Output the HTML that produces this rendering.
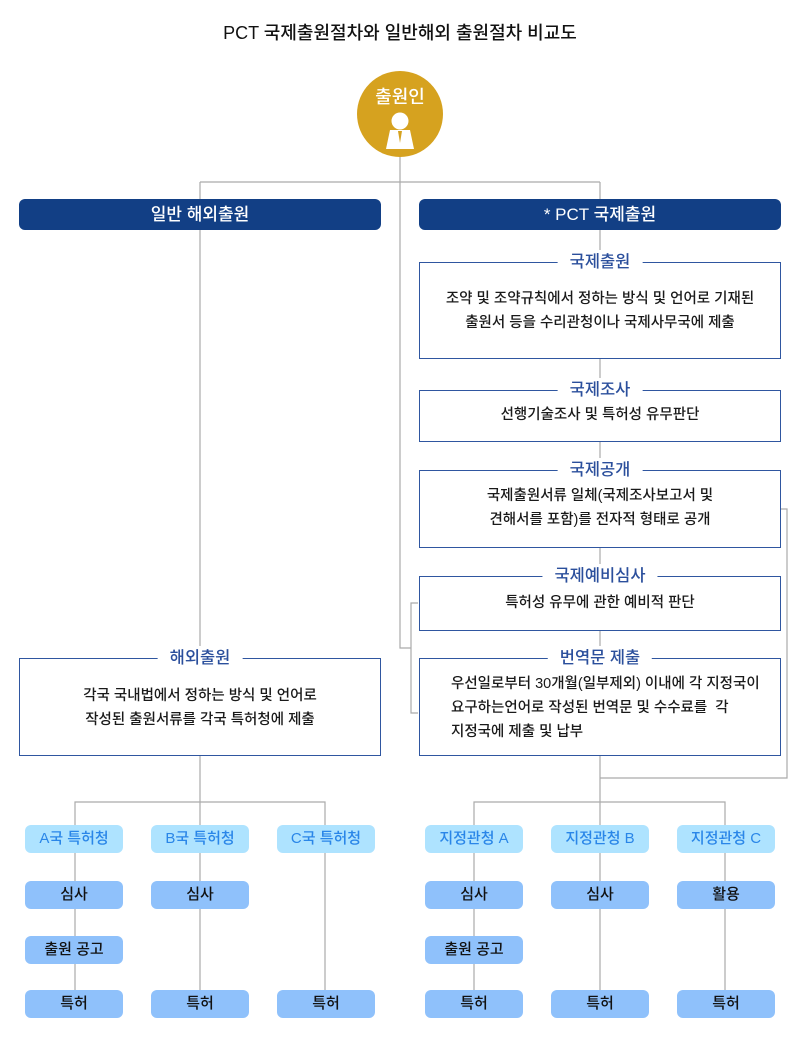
<!DOCTYPE html>
<html><head><meta charset="utf-8">
<style>
*{margin:0;padding:0;box-sizing:border-box}
body{width:800px;height:1058px;background:#fff;position:relative;overflow:hidden;font-family:"Liberation Sans","Noto Sans CJK KR",sans-serif;color:#222}
.a{position:absolute}
.title{left:0;width:800px;top:19px;text-align:center;font-size:18px;color:#111;font-weight:500}
.bar{background:#123f85;color:#fff;border-radius:6px;height:31px;top:199px;width:362px;text-align:center;font-size:17px;line-height:31px;font-weight:500}
.box{border:1.5px solid #2f56a0;background:#fff;width:362px}
.bt{position:absolute;top:-13px;left:50%;transform:translateX(-50%);background:#fff;padding:0 12px;color:#2b4f9c;font-size:16.5px;line-height:24px;white-space:nowrap;font-weight:500}
.bx{position:absolute;left:0;right:0;text-align:center;font-size:14.5px;line-height:24px;color:#1a1a1a;font-weight:500}
.n{width:98px;height:28px;border-radius:6px;text-align:center;line-height:28px;font-size:15px;font-weight:500}
.l{background:#aee3ff;color:#2a86e8}
.d{background:#8fc1fb;color:#111}
</style></head><body>
<svg class="a" style="left:0;top:0" width="800" height="1058">
<g stroke="#aaa" stroke-width="1.2" fill="none">
<path d="M400 150V648H411M200 182H600M200 182V658M600 182V262M600 358V390M600 441V470M600 547V576M600 630V658"/>
<path d="M418 603H411V713H418"/>
<path d="M781 509H787V778H600"/>
<path d="M200 755V802M75 825V802H325V825M200 802V825M75 853V990M200 853V990M325 853V990"/>
<path d="M600 755V802M474 825V802H725V825M600 802V825M474 853V990M600 853V990M725 853V990"/>
</g>
<circle cx="400" cy="114" r="43" fill="#d6a21f"/>
<circle cx="400" cy="121" r="8.5" fill="#fff"/>
<path d="M390 130H410L414 149H386Z" fill="#fff"/>
<path d="M398 131L400 143L402 131Z" fill="#d6a21f"/>
</svg>
<div class="a title">PCT 국제출원절차와 일반해외 출원절차 비교도</div>
<div class="a" style="left:356px;top:83px;width:88px;text-align:center;color:#fff;font-size:18px;font-weight:500">출원인</div>
<div class="a bar" style="left:19px">일반 해외출원</div>
<div class="a bar" style="left:419px">* PCT 국제출원</div>

<div class="a box" style="left:419px;top:262px;height:97px"><div class="bt">국제출원</div><div class="bx" style="top:24px">조약 및 조약규칙에서 정하는 방식 및 언어로 기재된<br>출원서 등을 수리관청이나 국제사무국에 제출</div></div>
<div class="a box" style="left:419px;top:390px;height:52px"><div class="bt">국제조사</div><div class="bx" style="top:12px">선행기술조사 및 특허성 유무판단</div></div>
<div class="a box" style="left:419px;top:470px;height:78px"><div class="bt">국제공개</div><div class="bx" style="top:13px">국제출원서류 일체(국제조사보고서 및<br>견해서를 포함)를 전자적 형태로 공개</div></div>
<div class="a box" style="left:419px;top:576px;height:55px"><div class="bt">국제예비심사</div><div class="bx" style="top:14px">특허성 유무에 관한 예비적 판단</div></div>
<div class="a box" style="left:419px;top:658px;height:98px"><div class="bt">번역문 제출</div><div class="bx" style="top:13px;left:31px;text-align:left">우선일로부터 30개월(일부제외) 이내에 각 지정국이<br>요구하는언어로 작성된 번역문 및 수수료를 &nbsp;각<br>지정국에 제출 및 납부</div></div>
<div class="a box" style="left:19px;top:658px;height:98px"><div class="bt">해외출원</div><div class="bx" style="top:25px">각국 국내법에서 정하는 방식 및 언어로<br>작성된 출원서류를 각국 특허청에 제출</div></div>

<div class="a n l" style="left:25px;top:825px">A국 특허청</div>
<div class="a n l" style="left:151px;top:825px">B국 특허청</div>
<div class="a n l" style="left:277px;top:825px">C국 특허청</div>
<div class="a n d" style="left:25px;top:881px">심사</div>
<div class="a n d" style="left:151px;top:881px">심사</div>
<div class="a n d" style="left:25px;top:936px">출원 공고</div>
<div class="a n d" style="left:25px;top:990px">특허</div>
<div class="a n d" style="left:151px;top:990px">특허</div>
<div class="a n d" style="left:277px;top:990px">특허</div>

<div class="a n l" style="left:425px;top:825px">지정관청 A</div>
<div class="a n l" style="left:551px;top:825px">지정관청 B</div>
<div class="a n l" style="left:677px;top:825px">지정관청 C</div>
<div class="a n d" style="left:425px;top:881px">심사</div>
<div class="a n d" style="left:551px;top:881px">심사</div>
<div class="a n d" style="left:677px;top:881px">활용</div>
<div class="a n d" style="left:425px;top:936px">출원 공고</div>
<div class="a n d" style="left:425px;top:990px">특허</div>
<div class="a n d" style="left:551px;top:990px">특허</div>
<div class="a n d" style="left:677px;top:990px">특허</div>
</body></html>
